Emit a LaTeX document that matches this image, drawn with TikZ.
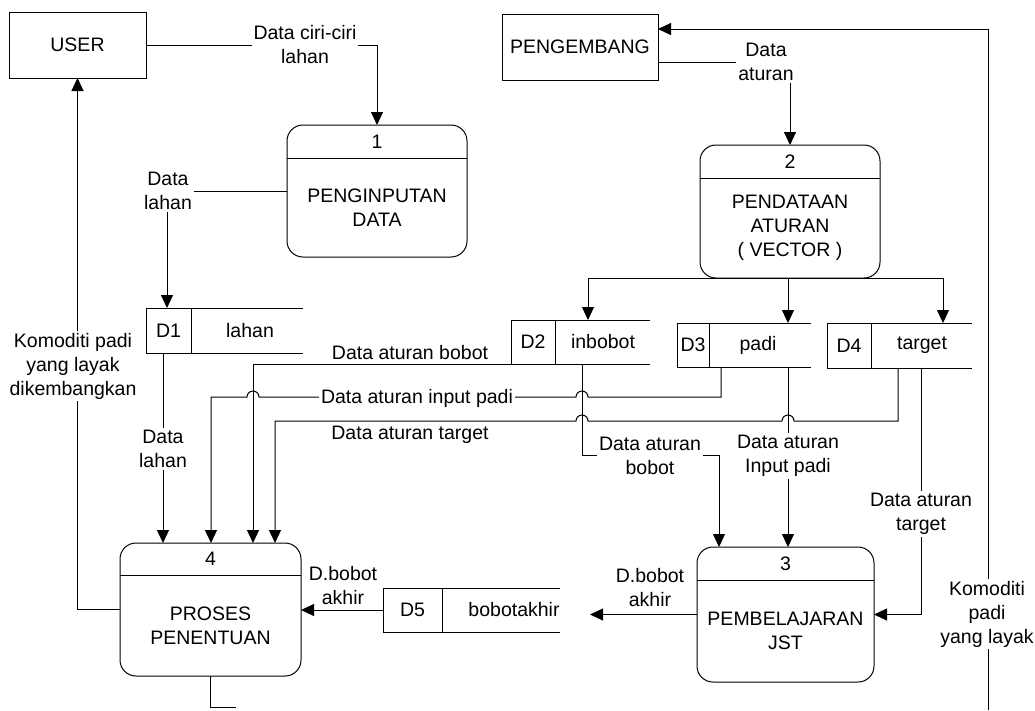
\documentclass[tikz,border=0pt]{standalone}
\usepackage{fontspec}
\setmainfont{Liberation Sans}
\usetikzlibrary{arrows.meta,calc}
% process: name, x1, x2, y1, y2, divider y, number, title
\newcommand\procnode[8]{%
  \node[procbox, minimum width={(#3)-(#2)}, minimum height={(#5)-(#4)}] (#1) at (#2,#4) {};
  \draw[line] (#2,#6) -- (#3,#6);
  \node[txt] (#1num) at ($(#2,#4)!.5!(#3,#6)$) {#7};
  \node[txt] (#1title) at ($(#2,#6)!.5!(#3,#5)$) {#8};
}
% data store: name, x1, x2, y1, y2, divider x, id, label, label x
\newcommand\storenode[9]{%
  \node[boxnode, minimum width={(#3)-(#2)}, minimum height={(#5)-(#4)}] (#1) at (#2,#4) {};
  \draw[line] (#1.north east) -- (#1.north west) -- (#1.south west) -- (#1.south east);
  \draw[line] (#6,#4) -- (#6,#5);
  \node[txt] (#1id) at ($(#2,#4)!.5!(#6,#5)$) {#7};
  \node[txt] (#1nm) at (#9,{((#4)+(#5))/2}) {#8};
}
\begin{document}
\begin{tikzpicture}[x=1pt,y=-1pt,
  line/.style={draw=black, line width=1pt},
  flow/.style={line, -{Triangle[length=13pt,width=12pt]}},
  txt/.style={font=\fontsize{19.5}{24}\selectfont, inner sep=1pt, align=center},
  lbl/.style={txt, fill=white, inner sep=2pt},
  procbox/.style={line, rounded corners=16pt, inner sep=0pt, outer sep=0pt, anchor=north west},
  boxnode/.style={inner sep=0pt, outer sep=0pt, anchor=north west},
]
\useasboundingbox (0,0) rectangle (1035,710);

% helper coordinates
\coordinate (x167) at (167,0);
\coordinate (x163) at (163,0);
\coordinate (x211) at (211,0);
\coordinate (x253) at (253,0);
\coordinate (x275) at (275,0);
\coordinate (x582) at (582,0);
\coordinate (x588) at (588,0);
\coordinate (x590) at (590,0);
\coordinate (x719) at (719,0);
\coordinate (x721) at (721,0);
\coordinate (x788) at (788,0);
\coordinate (x898) at (898,0);
\coordinate (x921) at (921,0);
\coordinate (x943) at (943,0);
\coordinate (y29) at (0,29);
\coordinate (y62) at (0,62);
\coordinate (y397) at (0,397);
\coordinate (y421) at (0,421);
\coordinate (y455) at (0,455);
\coordinate (kbot) at (988,710);
\coordinate (kstub) at (236,707);

% external entities
\node[boxnode, line, minimum width=137, minimum height=66] (user) at (9,12) {};
\node[txt] (usertxt) at (user.center) {USER};
\node[boxnode, line, minimum width=156, minimum height=66] (peng) at (502,14) {};
\node[txt] (pengtxt) at (peng.center) {PENGEMBANG};

% processes
\procnode{p1}{287}{467}{125}{257}{158}{1}{PENGINPUTAN\\DATA}
\procnode{p2}{700}{880}{145}{278}{178}{2}{PENDATAAN\\ATURAN\\( VECTOR )}
\procnode{p3}{697}{874}{547}{682}{580}{3}{PEMBELAJARAN\\JST}
\procnode{p4}{120}{301}{543}{676}{575}{4}{PROSES\\PENENTUAN}

% data stores
\storenode{d1}{146}{303}{308}{353}{191}{D1}{lahan}{250}
\storenode{d2}{511}{650}{320}{364}{555}{D2}{inbobot}{603}
\storenode{d3}{677}{811}{323}{367}{709}{D3}{padi}{758}
\storenode{d4}{827}{972}{323}{368}{871}{D4}{target}{922}
\storenode{d5}{383}{560}{588}{632}{442}{D5}{bobotakhir}{514}

% flows
\draw[flow] (user.east) -| (p1.north);
\draw[flow] (p1.west) -| (d1.north -| x167);
\draw[flow] (d1.south -| x163) -- (p4.north -| x163);
\draw[flow] (p4.west) -| (user.south);
\draw[line] (p4.south) |- (kstub);
\draw[flow] (kbot) |- (peng.east |- y29);
\draw[flow] (peng.east |- y62) -| (p2.north);
\draw[flow] (p2.south) -| (d2.north -| x588);
\draw[flow] (p2.south -| x788) -- (d3.north -| x788);
\draw[flow] (p2.south) -| (d4.north -| x943);
\draw[flow] (d2.south west) -| (p4.north -| x253);
\draw[flow] (d3.south -| x721) -- (x721 |- y397)
  -- ($(x582 |- y397)+(6,0)$) arc[start angle=0,end angle=180,radius=6pt]
  -- ($(x253 |- y397)+(6,0)$) arc[start angle=0,end angle=180,radius=6pt]
  -- (x211 |- y397) -- (p4.north -| x211);
\draw[flow] (d4.south -| x898) -- (x898 |- y421)
  -- ($(x788 |- y421)+(6,0)$) arc[start angle=0,end angle=180,radius=6pt]
  -- ($(x582 |- y421)+(6,0)$) arc[start angle=0,end angle=180,radius=6pt]
  -- (x275 |- y421) -- (p4.north -| x275);
\draw[flow] (d2.south -| x582) -- (x582 |- y455) -- (x719 |- y455) -- (p3.north -| x719);
\draw[flow] (d3.south -| x788) -- (p3.north -| x788);
\draw[flow] (d4.south -| x921) |- (p3.east);
\draw[flow] (p3.west) -- (p3.west -| x590);
\draw[flow] (d5.west) -- (d5.west -| p4.east);

% labels
\node[lbl] (l1) at (305,45) {Data ciri-ciri\\lahan};
\node[lbl] (l2) at (168,191) {Data\\lahan};
\node[lbl] (l3) at (73,366) {Komoditi padi\\yang layak\\dikembangkan};
\node[lbl] (l4) at (163,449) {Data\\lahan};
\node[txt] (l5) at (410,353) {Data aturan bobot};
\node[lbl] (l6) at (417,398) {Data aturan input padi};
\node[txt] (l7) at (410,435) {Data aturan target};
\node[lbl] (l8) at (766,62) {Data\\aturan};
\node[lbl] (l9) at (650,456) {Data aturan\\bobot};
\node[lbl] (l10) at (788,456) {Data aturan\\Input padi};
\node[lbl] (l11) at (921,514) {Data aturan\\target};
\node[lbl] (l12) at (987,614) {Komoditi\\padi\\yang layak};
\node[txt] (l13) at (343,586) {D.bobot\\akhir};
\node[txt] (l14) at (650,588) {D.bobot\\akhir};
\end{tikzpicture}
\end{document}
